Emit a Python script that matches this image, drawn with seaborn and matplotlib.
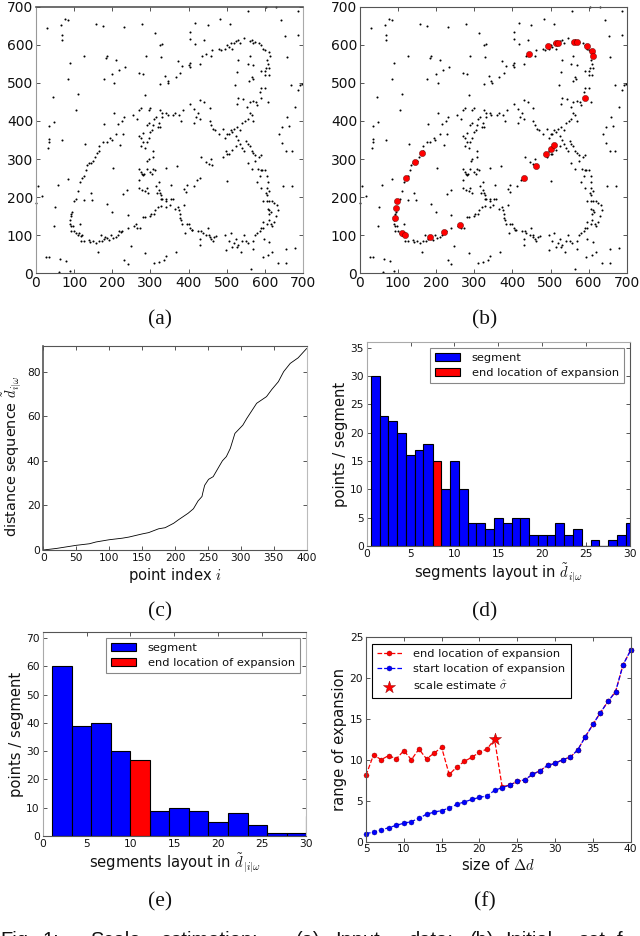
# scale estimation figure, six panels
import matplotlib
matplotlib.use('Agg')
import matplotlib.pyplot as plt
import numpy as np
import pandas as pd
import seaborn as sns

##### data #####
# input points, panels (a) and (b)
noise_pts = [(28,645),(66,652),(76,668),(83,665),(67,625),(68,612),(88,552),(83,510),(110,470),(105,430),(45,462),(48,397),
    (34,387),(33,352),(33,345),(32,328),(67,350),(128,340),(157,655),(175,650),(232,647),(277,654),(312,630),(325,600),
    (330,603),(327,568),(127,570),(183,565),(186,570),(210,560),(217,533),(233,541),(177,510),(200,524),(205,500),(271,527),
    (280,522),(289,570),(287,467),(326,497),(339,518),(345,505),(347,500),(366,515),(372,558),(378,525),(383,545),(402,548),
    (403,542),(405,552),(405,633),(405,615),(417,657),(418,603),(440,613),(450,652),(483,667),(508,655),(557,688),(603,698),
    (630,698),(687,690),(642,665),(653,622),(688,627),(657,568),(668,495),(692,495),(698,497),(688,480),(680,437),(658,410),
    (663,388),(646,385),(638,365),(645,341),(655,320),(670,320),(672,230),(647,230),(680,67),(655,65),(655,27),(635,27),
    (620,57),(608,47),(594,43),(563,10),(570,65),(0,185),(5,228),(17,203),(27,42),(33,42),(62,38),(78,33),(48,125),(50,175),
    (57,233),(60,3),(88,5),(115,130),(143,210),(147,193),(127,192),(85,247),(163,57),(187,183),(200,160),(203,277),(178,393),
    (205,422),(215,392),(220,338),(228,367),(232,35),(240,25),(248,72),(228,207),(238,218),(240,153),(287,52),(310,27),(322,30),
    (335,35),(340,45),(367,57)]
lower_left_pts = [(95,160),(92,150),(90,140),(88,130),(93,155),(92,125),(97,125),(100,110),(93,110),(105,105),(110,100),(112,105),
    (118,98),(120,100),(117,85),(127,85),(140,88),(142,82),(150,85),(158,80),(165,85),(170,100),(172,85),(178,90),(180,95),
    (185,92),(192,88),(197,100),(203,92),(210,95),(215,100),(218,110),(222,108),(225,110),(240,120),(258,125),(262,130),(265,120),
    (272,118),(280,148),(287,148),(300,150),(302,155),(310,155),(312,165),(320,175),(328,178),(330,195),(340,175),(340,190),
    (350,180),(353,195),(358,195),(365,170),(372,175),(375,165),(378,155),(378,145),(380,140),(382,130),(388,180),(390,105),
    (395,130),(400,130),(405,120),(408,115),(410,115)]
lower_right_pts = [(425,110),(430,90),(430,75),(432,110),(437,105),(445,100),(450,120),(453,100),(455,95),(460,90),(463,85),(467,95),
    (472,97),(495,100),(497,60),(505,85),(510,105),(515,68),(520,80),(525,90),(527,70),(530,75),(537,55),(540,85),(545,100),
    (550,85),(557,80),(570,85),(575,100),(580,105),(587,110),(590,120),(595,135),(595,120),(597,90),(605,130),(610,140),(612,82),
    (617,130),(620,125),(625,135),(630,150),(635,165),(632,180),(625,185),(620,190),(612,190),(605,190),(607,170),(612,165),
    (610,155),(615,160),(603,210),(605,225),(607,240),(605,255),(590,225),(580,240),(587,255),(592,270),(600,272),(612,215),
    (605,205),(595,190)]
middle_pts = [(270,225),(277,220),(285,215),(290,225),(293,210),(270,245),(275,265),(278,262),(280,258),(283,262),(270,273),(290,275),
    (300,265),(305,262),(308,275),(312,270),(315,230),(322,240),(322,218),(325,212),(318,210),(328,205),(327,195),(340,277),
    (342,195),(370,283),(355,232),(393,213),(388,222),(395,232),(413,230),(422,245),(430,250),(432,305),(445,292),(453,288),
    (460,300),(462,285),(490,305),(497,320),(500,312),(505,313),(500,242),(515,325),(525,335),(530,350)]
upper_right_pts = [(535,375),(528,385),(540,395),(548,400),(555,405),(560,420),(565,415),(570,400),(553,437),(560,450),(570,452),(578,450),
    (580,443),(590,460),(587,475),(590,487),(600,487),(607,450),(527,445),(530,460),(543,458),(522,495),(558,505),(565,515),
    (568,510),(555,550),(570,548),(560,570),(527,528),(530,560),(430,550),(435,570),(445,575),(460,570),(462,585),(480,590),
    (485,587),(495,590),(500,600),(505,595),(510,605),(515,590),(520,605),(525,610),(530,612),(535,605),(545,618),(560,610),
    (565,612),(570,605),(575,608),(585,605),(590,600),(595,590),(600,585),(610,580),(613,570),(605,560),(608,550),(603,540),
    (600,530),(612,540),(610,520),(600,520),(590,530)]
upper_left_pts = [(100,190),(105,195),(110,215),(115,240),(120,250),(125,255),(130,270),(135,285),(140,290),(145,290),(150,295),(155,305),
    (160,315),(165,320),(165,335),(175,345),(185,345),(195,355),(198,350),(210,365),(225,400),(230,410),(255,415),(265,405),
    (270,430),(275,435),(295,430),(300,433)]
inner_pts = [(270,360),(275,355),(280,368),(280,345),(285,330),(275,335),(290,345),(290,390),(295,395),(295,355),(300,370),(305,375),
    (308,390),(310,405),(315,410),(320,385),(322,395),(325,385),(330,410),(325,430),(330,420),(340,420),(345,415),(360,415),
    (365,420),(375,415),(380,400),(385,430),(405,445),(415,432),(415,395),(420,410),(425,420),(430,405),(430,455),(440,450),
    (455,433),(455,400),(460,390),(465,380),(470,375),(480,365),(490,378),(495,355),(500,365),(505,365),(510,375),(515,370),
    (520,380),(525,360),(535,340),(540,330),(545,320),(550,348),(555,340),(560,335),(565,320),(570,315),(575,310),(585,305),
    (590,310),(555,290),(565,275),(575,295),(582,275),(590,272),(307,320),(307,305),(295,300),(292,295)]
# red points in (b)
seed_pts = [(97,191),(94,171),(93,146),(110,106),(119,100),(183,95),(221,108),(262,128),(122,251),(145,291),(162,316),(430,251),
    (462,283),(488,312),(502,326),(509,337),(591,459),(444,575),(493,597),(514,604),(520,604),(562,608),(569,608),(595,598),
    (608,584),(612,571)]

# (c) sorted distance sequence
seq_index = [0,20,50,70,80,100,120,130,150,160,175,185,198,205,220,228,235,241,242,245,251,258,268,272,278,284,291,303,309,324,339,347,357,365,375,387,400]
seq_dist = [0,0.7,2.1,2.8,3.6,4.6,5.3,5.8,7.2,7.8,9.5,10,12,13.5,16.5,18.5,22,24,25.4,29,31.7,32.9,38,40,41.9,45.6,52.3,56,59,65.8,68.8,72,75.5,80,83.7,86.2,90.4]

# (d) histogram
d_edges = [0.46,1.5,2.46,3.47,4.46,5.46,6.47,7.5,8.5,9.5,10.5,11.5,12.5,13.5,14.5,15.5,16.5,17.5,18.5,19.5,20.5,21.5,22.5,23.5,24.5,25.5,26.5,27.5,28.5,29.5,30.5]
d_counts = [30,23,22,20,16,17,18,15,10,15,10,4,4,3,5,4,5,5,2,2,2,4,2,3,0,1,0,1,2,4]
d_end_bin = 7

# (e) histogram
e_edges = [1.1,3.3,5.5,7.75,9.95,12.2,14.4,16.65,18.85,21.1,23.35,25.6,27.8,30.0,32.2]
e_counts = [60,39,40,30,27,9,10,9,5,8,4,1,1,7]
e_end_bin = 4

# (f) range of expansion
delta_d = list(range(5, 41))
end_loc = [8.1,10.6,10.0,10.5,10.1,11.1,10.0,11.3,10.1,10.8,11.5,8.2,9.1,9.8,10.3,10.9,11.3,12.5,6.7,6.9,7.35,7.55,8.2,8.65,9.3,9.55,10,10.3,11.2,12.8,14.3,15.75,17.1,18.3,21.6,23.35]
start_loc = [1.0,1.15,1.45,1.7,2.0,2.25,2.45,2.85,3.35,3.6,3.8,4.1,4.55,4.85,5.15,5.4,5.6,6.25,6.6,6.9,7.35,7.55,8.2,8.65,9.3,9.55,10,10.3,11.2,12.8,14.3,15.75,17.1,18.3,21.6,23.35]
scale_x, scale_y = 22, 12.5

# text under the panels, cut by the page edge
caption_words = ['Fig.', '1:', 'Scale', 'estimation:', '(a)', 'Input', 'data;', '(b)', 'Initial', 'set', 'f']
caption_x = [0, 43, 90, 160, 296, 335, 408, 470, 505, 578, 617]

##### style #####
sns.set_theme(style='ticks', rc={
    'xtick.direction': 'in', 'ytick.direction': 'in',
    'xtick.top': True, 'ytick.right': True,
    'xtick.major.size': 3, 'ytick.major.size': 3,
    'xtick.major.width': 0.5, 'ytick.major.width': 0.5,
    'axes.linewidth': 0.8, 'axes.edgecolor': '#555555',
    'text.color': '#111111', 'axes.labelcolor': '#111111',
    'xtick.color': '#111111', 'ytick.color': '#111111',
    'mathtext.fontset': 'cm',
    'patch.linewidth': 0.8,
})
plt.rcParams['font.family'] = ['DejaVu Sans']
W, H = 640, 936
fig = plt.figure(figsize=(W / 100, H / 100), dpi=100, facecolor='white')

def add_ax(left, right, top, bottom):
    return fig.add_axes([left / W, 1 - bottom / H, (right - left) / W, (bottom - top) / H])

def caption(x, y, s):
    fig.text(x / W, 1 - y / H, s, family='Liberation Serif', fontsize=15.5, ha='center', va='center', color='#111111')

all_pts = noise_pts + lower_left_pts + lower_right_pts + middle_pts + upper_right_pts + upper_left_pts + inner_pts
pts = pd.DataFrame(all_pts, columns=['x', 'y'])
seeds = pd.DataFrame(seed_pts, columns=['x', 'y'])

def draw_points(ax):
    sns.scatterplot(data=pts, x='x', y='y', ax=ax, s=2.2, color='black', linewidth=0, clip_on=False)
    ax.set_xlim(0, 700)
    ax.set_ylim(0, 700)
    ax.set_xticks(range(0, 701, 100))
    ax.set_yticks(range(0, 701, 100))
    ax.set_xlabel('')
    ax.set_ylabel('')
    ax.tick_params(labelsize=10, pad=2)

##### (a) #####
ax_a = add_ax(36, 303, 6.7, 273.3)
draw_points(ax_a)
ax_a.spines['top'].set_linewidth(1.2)
ax_a.spines['right'].set_color('#aaaaaa')
ax_a.spines['left'].set_color('#999999')

##### (b) #####
ax_b = add_ax(360, 626.7, 6.7, 273.3)
draw_points(ax_b)
sns.scatterplot(data=seeds, x='x', y='y', ax=ax_b, s=20, color='red', edgecolor='#550000', linewidth=0.3, zorder=3)
ax_b.set_xlabel('')
ax_b.set_ylabel('')

##### (c) #####
ax_c = add_ax(43.3, 306.7, 346, 550)
sns.lineplot(x=seq_index, y=seq_dist, ax=ax_c, color='black', linewidth=0.6)
ax_c.set_xlim(0, 400)
ax_c.set_ylim(0, 91.5)
ax_c.set_xticks(range(0, 401, 50))
ax_c.set_yticks(range(0, 81, 20))
ax_c.tick_params(labelsize=7.7, pad=2)
ax_c.set_xlabel(r'point index $i$', fontsize=10.6, labelpad=2)
ax_c.set_ylabel(r'distance sequence $\tilde{d}_{i|\omega}$', fontsize=10.4, labelpad=3, y=0.46)
ax_c.spines['left'].set_linewidth(1.2)
ax_c.spines['right'].set_color('#bbbbbb')

##### histograms #####
def draw_hist(ax, edges, counts, end_bin, ymax, yticks, xlab):
    seg = [i for i in range(len(counts)) if i != end_bin]
    centers = [(edges[i] + edges[i + 1]) / 2 for i in range(len(counts))]
    sns.histplot(x=[centers[i] for i in seg], weights=[counts[i] for i in seg], bins=edges, ax=ax,
                 color='blue', alpha=1, edgecolor='black', linewidth=0.8, label='segment')
    sns.histplot(x=[centers[end_bin]], weights=[counts[end_bin]], bins=edges, ax=ax,
                 color='red', alpha=1, edgecolor='black', linewidth=0.8, label='end location of expansion')
    ax.set_xlim(0, 30)
    ax.set_ylim(0, ymax)
    ax.set_xticks(range(0, 31, 5))
    ax.set_yticks(yticks)
    ax.tick_params(labelsize=7.7, pad=2)
    ax.set_xlabel(xlab, fontsize=10.6, labelpad=2)
    ax.set_ylabel('points / segment', fontsize=10.6, labelpad=2)
    leg = ax.legend(loc='upper right', fontsize=8.2, frameon=True, fancybox=False, framealpha=1,
                    edgecolor='#888888', bbox_to_anchor=(0.977, 0.972), borderaxespad=0, handlelength=2.2,
                    handletextpad=1.0, labelspacing=0.45, borderpad=0.45)
    leg.get_frame().set_linewidth(0.8)

# (d)
ax_d = add_ax(366.7, 630, 342, 546)
draw_hist(ax_d, d_edges, d_counts, d_end_bin, 36, range(0, 36, 5), r'segments layout in $\tilde{d}_{i|\omega}$')
ax_d.spines['top'].set_color('#aaaaaa')
ax_d.spines['left'].set_color('#aaaaaa')

# (e)
ax_e = add_ax(42.7, 306, 632.3, 836)
draw_hist(ax_e, e_edges, e_counts, e_end_bin, 72, range(0, 71, 10), r'segments layout in $\tilde{d}_{|i|\omega}$')
ax_e.spines['left'].set_color('#aaaaaa')
ax_e.spines['right'].set_color('#bbbbbb')

##### (f) #####
ax_f = add_ax(366, 630.7, 636.7, 841.7)
sns.lineplot(x=delta_d, y=end_loc, ax=ax_f, color='red', linestyle='--', linewidth=0.9, marker='o', markersize=3.6,
             markeredgecolor='#880000', markeredgewidth=0.3, label='end location of expansion')
sns.lineplot(x=delta_d, y=start_loc, ax=ax_f, color='blue', linestyle='--', linewidth=0.9, marker='o', markersize=3.6,
             markeredgecolor='#000088', markeredgewidth=0.3, label='start location of expansion')
sns.scatterplot(x=[scale_x], y=[scale_y], ax=ax_f, marker='*', s=85, color='red', edgecolor='#880000', linewidth=0.3,
                label=r'scale estimate $\hat{\sigma}$', zorder=4, clip_on=False)
ax_f.set_xlim(5, 40)
ax_f.set_ylim(0, 25)
ax_f.set_xticks(range(5, 41, 5))
ax_f.set_yticks(range(0, 26, 5))
ax_f.tick_params(labelsize=7.7, pad=2)
ax_f.set_xlabel(r'size of $\Delta d$', fontsize=10.6, labelpad=2)
ax_f.set_ylabel('range of expansion', fontsize=10.6, labelpad=2)
for ln in ax_f.lines:
    ln.set_clip_on(False)
leg = ax_f.legend(loc='upper left', fontsize=8.2, frameon=True, fancybox=False, framealpha=1, edgecolor='black',
                  bbox_to_anchor=(0.022, 0.965), borderaxespad=0, handlelength=2.2, handletextpad=1.0,
                  labelspacing=0.45, borderpad=0.45)
leg.get_frame().set_linewidth(0.8)

##### captions #####
caption(160, 320, '(a)')
caption(485, 320, '(b)')
caption(160, 612, '(c)')
caption(485, 612, '(d)')
caption(160, 902, '(e)')
caption(485, 902, '(f)')
for word, wx in zip(caption_words, caption_x):
    fig.text(wx / W, 1 - 931 / H, word, family='Liberation Sans', fontsize=14.5, ha='left', va='top', color='#111111')

fig.savefig('out.png', dpi=100)
